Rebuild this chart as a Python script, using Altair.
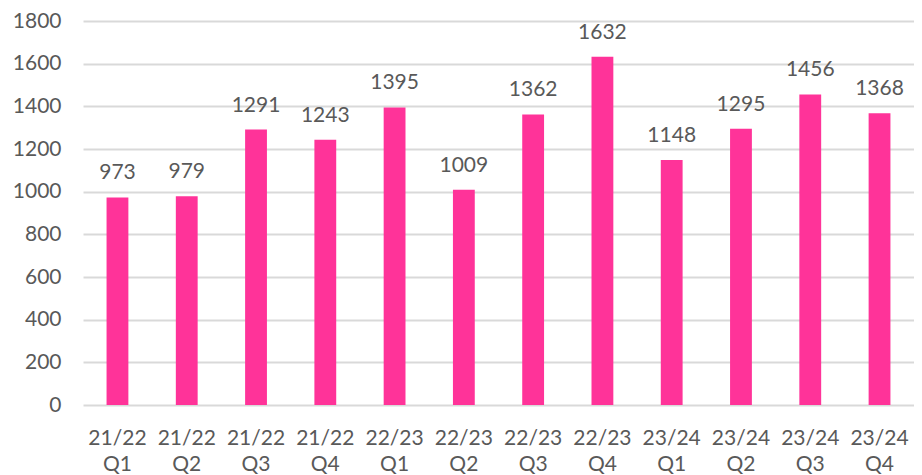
import altair as alt
import pandas as pd

categories = ["21/22 Q1", "21/22 Q2", "21/22 Q3", "21/22 Q4",
              "22/23 Q1", "22/23 Q2", "22/23 Q3", "22/23 Q4",
              "23/24 Q1", "23/24 Q2", "23/24 Q3", "23/24 Q4"]
values = [973, 979, 1291, 1243, 1395, 1009, 1362, 1632, 1148, 1295, 1456, 1368]
y_ticks = [0, 200, 400, 600, 800, 1000, 1200, 1400, 1600, 1800]

df = pd.DataFrame({"cat": categories, "val": values})

FONT = "Lato"
GRAY = "#595959"
FS = 21

x = alt.X("cat:N", sort=categories, title=None,
          scale=alt.Scale(paddingInner=0.685, paddingOuter=0.34),
          axis=alt.Axis(labelExpr="split(datum.label, ' ')", labelAngle=0,
                        labelFontSize=FS, labelColor=GRAY, labelFont=FONT,
                        labelLineHeight=26, labelPadding=22,
                        ticks=False, domain=False, grid=False))
y = alt.Y("val:Q", title=None,
          scale=alt.Scale(domain=[0, 1800], nice=False),
          axis=alt.Axis(values=y_ticks, format="d", labelFontSize=FS, labelColor=GRAY,
                        labelFont=FONT, labelPadding=22, ticks=False, domain=False,
                        gridColor="#d9d9d9", gridWidth=2, minExtent=75, maxExtent=75))

bars = alt.Chart(df).mark_bar(color="#FF3399").encode(x=x, y=y)
labels = alt.Chart(df).mark_text(dy=-18, baseline="alphabetic", fontSize=FS,
                                 font=FONT, color=GRAY).encode(
    x=alt.X("cat:N", sort=categories), y="val:Q", text="val:Q")

chart = (bars + labels).properties(
    width=831, height=384,
    padding={"left": 0, "top": 2, "right": 0, "bottom": 0}
).configure_view(stroke=None)

chart.save("out.html", embed_options={"renderer": "svg", "actions": False})
